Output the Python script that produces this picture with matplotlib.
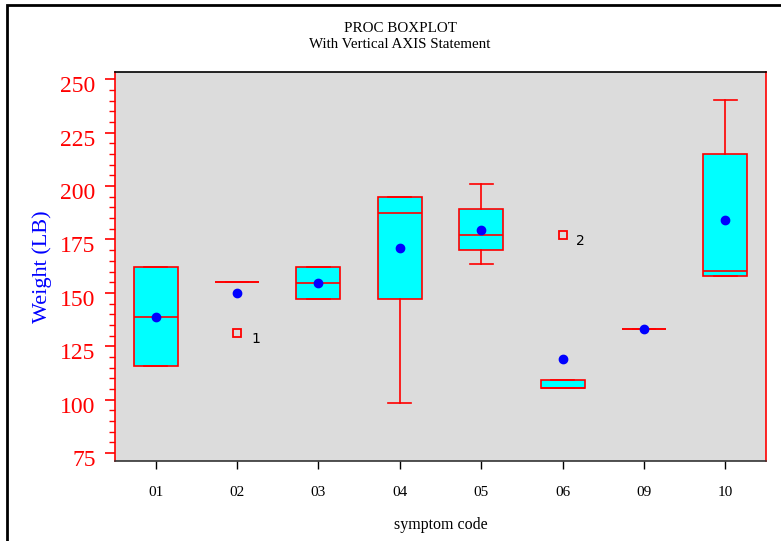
import matplotlib
matplotlib.use("Agg")
import matplotlib.pyplot as plt
from matplotlib.patches import Rectangle
from matplotlib.ticker import MultipleLocator
from matplotlib.transforms import ScaledTranslation

# ---- data ----
codes = ["01", "02", "03", "04", "05", "06", "09", "10"]
q1 = [115.6, 155.2, 147.0, 147.0, 170.3, 105.3, 133.1, 158.1]
med = [138.9, 155.2, 154.5, 187.5, 177.2, 105.3, 133.1, 160.3]
q3 = [162.2, 155.2, 162.2, 194.8, 189.2, 109.2, 133.1, 215.0]
whislo = [115.6, 155.2, 147.0, 98.4, 163.4, 105.3, 133.1, 158.1]
whishi = [162.2, 155.2, 162.2, 194.8, 201.2, 109.2, 133.1, 240.3]
means = [138.6, 150.1, 154.8, 170.9, 179.5, 119.1, 133.1, 184.2]
outliers = [[], [131.2], [], [], [], [176.9], [], []]
outlier_ids = [[], ["1"], [], [], [], ["2"], [], []]
yticks = [75, 100, 125, 150, 175, 200, 225, 250]

fig = plt.figure(figsize=(7.81, 5.41), dpi=100)
ax = fig.add_axes([115/781, 1-461/541, (766-115)/781, (461-72)/541])
ax.set_facecolor("#dcdcdc")

stats = []
for i in range(len(codes)):
    stats.append(dict(label=codes[i], q1=q1[i], med=med[i], q3=q3[i],
                      whislo=whislo[i], whishi=whishi[i], mean=means[i],
                      fliers=outliers[i]))

red = "#ff0000"
ax.bxp(stats, positions=range(len(codes)), widths=0.54, capwidths=0.28,
       patch_artist=True, showmeans=True, showcaps=True,
       boxprops=dict(facecolor="#00ffff", edgecolor=red, linewidth=1.2),
       medianprops=dict(color=red, linewidth=1.2),
       whiskerprops=dict(color=red, linewidth=1.2),
       capprops=dict(color=red, linewidth=1.2),
       meanprops=dict(marker="o", markerfacecolor="#0000ff", markeredgecolor="#0000ff",
                      markersize=6),
       flierprops=dict(marker="s", markerfacecolor="none", markeredgecolor=red,
                       markersize=6, markeredgewidth=1.3))

for i, (vals, ids) in enumerate(zip(outliers, outlier_ids)):
    for v, t in zip(vals, ids):
        ax.annotate(t, (i, v), xytext=(10, -4), textcoords="offset points",
                    fontsize=10, color="black", va="center", ha="left",
                    family="DejaVu Sans")

ax.set_xlim(-0.5, 7.5)
ax.set_ylim(71.3, 253.4)
ax.set_yticks(yticks)
ax.yaxis.set_minor_locator(MultipleLocator(5))
ax.set_xticks(range(len(codes)))
ax.set_xticklabels(codes, family="Liberation Serif", fontsize=11)

ax.tick_params(axis="y", which="major", colors=red, length=7, width=1.2,
               labelsize=17, pad=7)
ax.tick_params(axis="y", which="minor", colors=red, length=4, width=1.0)
shift = ScaledTranslation(0, -5/100, fig.dpi_scale_trans)
for lab in ax.get_yticklabels():
    lab.set_family("Liberation Serif")
    lab.set_transform(lab.get_transform() + shift)
ax.tick_params(axis="x", which="major", colors="black", length=6, width=1.0,
               pad=12)

ax.spines["left"].set_color(red)
ax.spines["right"].set_color(red)
ax.spines["top"].set_color("black")
ax.spines["bottom"].set_color("#333333")
for s in ax.spines.values():
    s.set_linewidth(1.2)

ax.set_ylabel("Weight (LB)", color="#0000ff", fontsize=16,
              family="Liberation Serif", labelpad=6)
ax.set_xlabel("symptom code", fontsize=11.5, family="Liberation Serif",
              labelpad=13)

fig.text(400/781, 1-28/541, "PROC BOXPLOT", ha="center", va="center",
         fontsize=10.8, family="Liberation Serif")
fig.text(400/781, 1-44/541, "With Vertical AXIS Statement", ha="center",
         va="center", fontsize=10.8, family="Liberation Serif")

# outer frame
fig.patches.append(Rectangle((7/781, -0.05), 1.2, 1-5/541+0.05,
                             transform=fig.transFigure, fill=False,
                             edgecolor="black", linewidth=2.0))

fig.savefig("out.png", dpi=100)
